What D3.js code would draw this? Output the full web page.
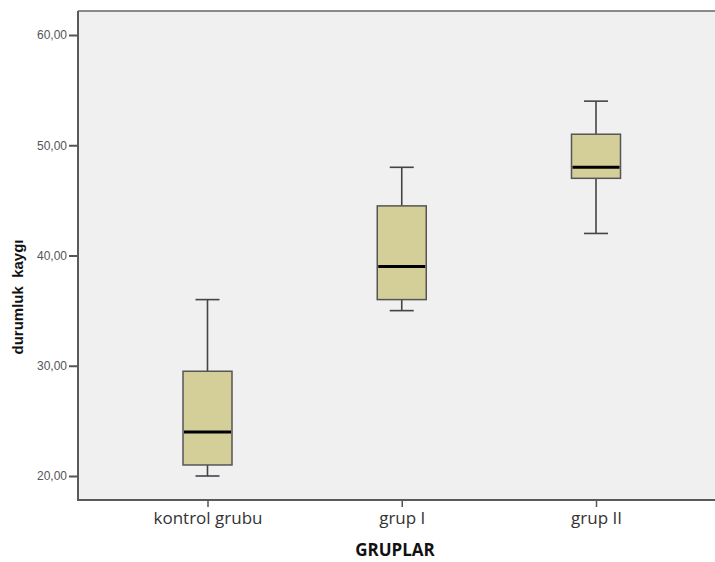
<!DOCTYPE html>
<html>
<head>
<meta charset="utf-8">
<script src="https://cdn.jsdelivr.net/npm/d3@7"></script>
<style>
  html, body { margin: 0; padding: 0; background: #fff; }
  svg { display: block; }
</style>
</head>
<body>
<svg id="chart" width="715" height="562"></svg>
<script>
// Box-plot summaries for each group (durumluk kaygı scores)
const groups = ["kontrol grubu", "grup I", "grup II"];
const whiskerLow  = [20, 35, 42];
const quartile1   = [21, 36, 47];
const medians     = [24, 39, 48];
const quartile3   = [29.5, 44.5, 51];
const whiskerHigh = [36, 48, 54];
const yTicks = [20, 30, 40, 50, 60];

const svg = d3.select("#chart");
const plotL = 78, plotT = 11, plotR = 725, plotB = 500;

// y: value -> pixel (20 at 476, 60 at 35)
const y = d3.scaleLinear().domain([20, 60]).range([476, 35]);
// x: three evenly spaced categories, the frame runs past the right edge
const x = d3.scalePoint().domain(groups).range([207.5, 596]);

// plot background
svg.append("rect")
  .attr("x", plotL).attr("y", plotT)
  .attr("width", plotR - plotL).attr("height", plotB - plotT)
  .attr("fill", "#f0f0f0");

// frame
svg.append("line").attr("x1", plotL).attr("x2", plotR).attr("y1", plotT).attr("y2", plotT)
  .attr("stroke", "#8a8a8a").attr("stroke-width", 2);

const fmt = v => d3.format(".2f")(v).replace(".", ",");

// y axis
const yAxis = svg.append("g")
  .attr("transform", `translate(${plotL},0)`)
  .call(d3.axisLeft(y).tickValues(yTicks).tickFormat(fmt).tickSize(9).tickPadding(2));
yAxis.select(".domain").remove();
yAxis.selectAll(".tick line").attr("stroke", "#555").attr("stroke-width", 2);
yAxis.selectAll(".tick text")
  .attr("fill", "#555")
  .style("font-family", "Arial, 'Liberation Sans', sans-serif")
  .style("font-size", "12px");

// x axis
const xAxis = svg.append("g")
  .attr("transform", `translate(0,${plotB})`)
  .call(d3.axisBottom(x).tickSize(7).tickPadding(6));
xAxis.select(".domain").remove();
xAxis.selectAll(".tick line").attr("stroke", "#555").attr("stroke-width", 1.5);
xAxis.selectAll(".tick text")
  .attr("fill", "#333")
  .attr("y", 24).attr("dy", 0)
  .style("font-family", "'Open Sans', sans-serif")
  .style("font-size", "17px");

svg.append("line").attr("x1", plotL).attr("x2", plotL).attr("y1", plotT).attr("y2", plotB + 1)
  .attr("stroke", "#5a5a5a").attr("stroke-width", 2);
svg.append("line").attr("x1", plotL - 1).attr("x2", plotR).attr("y1", plotB).attr("y2", plotB)
  .attr("stroke", "#5a5a5a").attr("stroke-width", 2);

// boxes
const boxW = 49, capW = 24;
const rows = groups.map((g, i) => ({
  g, lo: whiskerLow[i], q1: quartile1[i], med: medians[i], q3: quartile3[i], hi: whiskerHigh[i]
}));

const box = svg.append("g").selectAll("g").data(rows).join("g")
  .attr("transform", d => `translate(${x(d.g)},0)`);

box.append("line")
  .attr("x1", 0).attr("x2", 0)
  .attr("y1", d => y(d.hi)).attr("y2", d => y(d.q3))
  .attr("stroke", "#444").attr("stroke-width", 1.6);
box.append("line")
  .attr("x1", 0).attr("x2", 0)
  .attr("y1", d => y(d.q1)).attr("y2", d => y(d.lo))
  .attr("stroke", "#444").attr("stroke-width", 1.6);
box.append("line")
  .attr("x1", -capW / 2).attr("x2", capW / 2)
  .attr("y1", d => y(d.hi)).attr("y2", d => y(d.hi))
  .attr("stroke", "#444").attr("stroke-width", 1.6);
box.append("line")
  .attr("x1", -capW / 2).attr("x2", capW / 2)
  .attr("y1", d => y(d.lo)).attr("y2", d => y(d.lo))
  .attr("stroke", "#444").attr("stroke-width", 1.6);
box.append("rect")
  .attr("x", -boxW / 2).attr("width", boxW)
  .attr("y", d => y(d.q3)).attr("height", d => y(d.q1) - y(d.q3))
  .attr("fill", "#d4cf99").attr("stroke", "#555").attr("stroke-width", 1.5);
box.append("line")
  .attr("x1", -boxW / 2 + 1).attr("x2", boxW / 2 - 1)
  .attr("y1", d => y(d.med)).attr("y2", d => y(d.med))
  .attr("stroke", "#000").attr("stroke-width", 3);

// axis titles
svg.append("text")
  .attr("transform", "translate(23,297) rotate(-90)")
  .attr("text-anchor", "middle")
  .style("white-space", "pre")
  .style("font-family", "Arial, 'Liberation Sans', sans-serif")
  .style("font-weight", "bold")
  .style("font-size", "15px")
  .attr("fill", "#111")
  .text("durumluk  kaygı");

svg.append("text")
  .attr("x", 395).attr("y", 556)
  .attr("text-anchor", "middle")
  .style("font-family", "'Open Sans', sans-serif")
  .style("font-weight", "bold")
  .style("font-size", "17px")
  .attr("fill", "#111")
  .text("GRUPLAR");
</script>
</body>
</html>
